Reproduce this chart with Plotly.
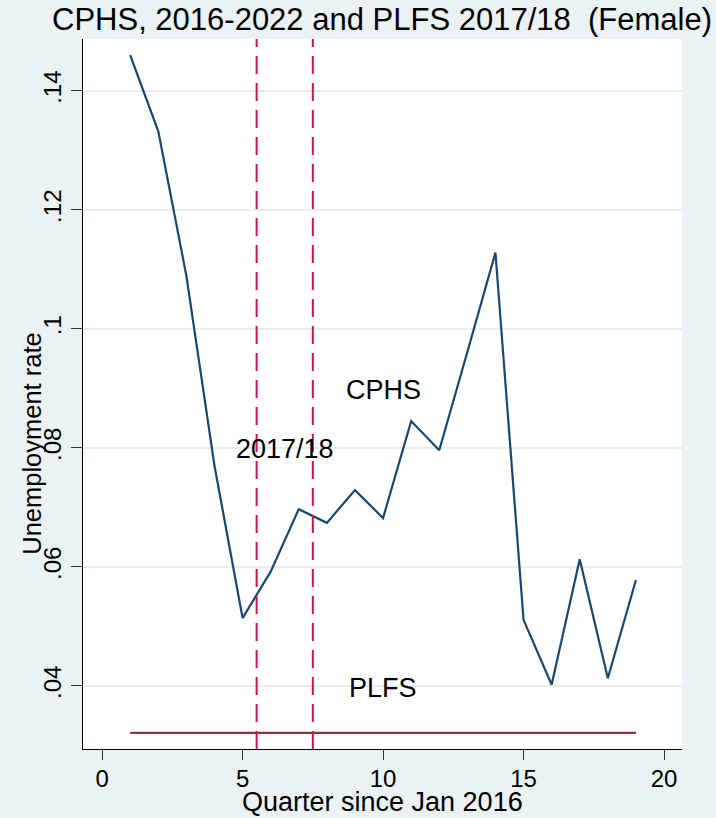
import plotly.graph_objects as go

quarters = list(range(1, 20))
cphs_rate = [0.146, 0.1332, 0.1089, 0.0770, 0.0514, 0.0592, 0.0697, 0.0674, 0.0729,
             0.0682, 0.0845, 0.0796, 0.0961, 0.1128, 0.0511, 0.0402, 0.0613, 0.0413, 0.0578]
plfs_x = [1, 19]
plfs_rate = [0.0321, 0.0321]
period_bounds = [5.5, 7.5]
x_ticks = [0, 5, 10, 15, 20]
y_ticks = [0.04, 0.06, 0.08, 0.10, 0.12, 0.14]
y_tick_labels = [".04", ".06", ".08", ".1", ".12", ".14"]

BG = "#EAF2F3"
FONT = "Liberation Sans, Arial, sans-serif"

fig = go.Figure()
fig.add_trace(go.Scatter(x=quarters, y=cphs_rate, mode="lines",
                         line=dict(color="#1a476f", width=2.2), name="CPHS",
                         showlegend=False))
fig.add_trace(go.Scatter(x=plfs_x, y=plfs_rate, mode="lines",
                         line=dict(color="#90353b", width=2.2), name="PLFS",
                         showlegend=False))

for xb in period_bounds:
    fig.add_shape(type="line", xref="x", yref="paper", x0=xb, x1=xb, y0=0, y1=1,
                  line=dict(color="#C8174A", width=2, dash="18px,9px"))

fig.add_annotation(x=6.5, y=0.0798, text="2017/18", showarrow=False,
                   font=dict(size=27, color="black", family=FONT))
fig.add_annotation(x=10, y=0.0898, text="CPHS", showarrow=False,
                   font=dict(size=27, color="black", family=FONT))
fig.add_annotation(x=10, y=0.0397, text="PLFS", showarrow=False,
                   font=dict(size=27, color="black", family=FONT))
# axis titles placed as in the original (y title overlaps tick labels)
fig.add_annotation(xref="paper", yref="paper", x=-0.085, y=0.43, xanchor="center",
                   yanchor="middle", text="Unemployment rate", textangle=-90,
                   showarrow=False, font=dict(size=25.5, color="black", family=FONT))
fig.add_annotation(xref="paper", yref="paper", x=0.5, y=-0.0746, xanchor="center",
                   yanchor="middle", text="Quarter since Jan 2016", borderpad=0,
                   showarrow=False, font=dict(size=27, color="black", family=FONT))

fig.update_layout(
    width=716, height=818,
    paper_bgcolor=BG, plot_bgcolor="white",
    margin=dict(l=83, r=34, t=39, b=69, autoexpand=False),
    font=dict(family=FONT, color="black"),
    title=dict(text="CPHS, 2016-2022 and PLFS 2017/18  (Female)",
               x=712 / 716, xanchor="right", y=0.977, yanchor="middle",
               font=dict(size=31, color="black", family=FONT)),
    xaxis=dict(range=[-0.68, 20.64], tickvals=x_ticks, showgrid=False, zeroline=False,
               showline=True, linecolor="black", linewidth=1.3, automargin=False,
               ticks="outside", ticklen=10, tickcolor="#333333", tickwidth=1.3,
               ticklabelstandoff=-2,
               tickfont=dict(size=24, family=FONT)),
    yaxis=dict(range=[0.0294, 0.1487], tickvals=y_ticks, ticktext=y_tick_labels,
               showgrid=True, gridcolor="#E6EEF1", gridwidth=2, zeroline=False,
               showline=True, linecolor="black", linewidth=1.3, automargin=False,
               ticks="outside", ticklen=11, tickcolor="#333333", tickwidth=1.3,
               tickangle=-90, tickfont=dict(size=24, family=FONT)),
)

fig.write_html("out.html", config={"displayModeBar": False},
               post_script="document.body.style.margin='0px';document.body.style.overflow='hidden';")
